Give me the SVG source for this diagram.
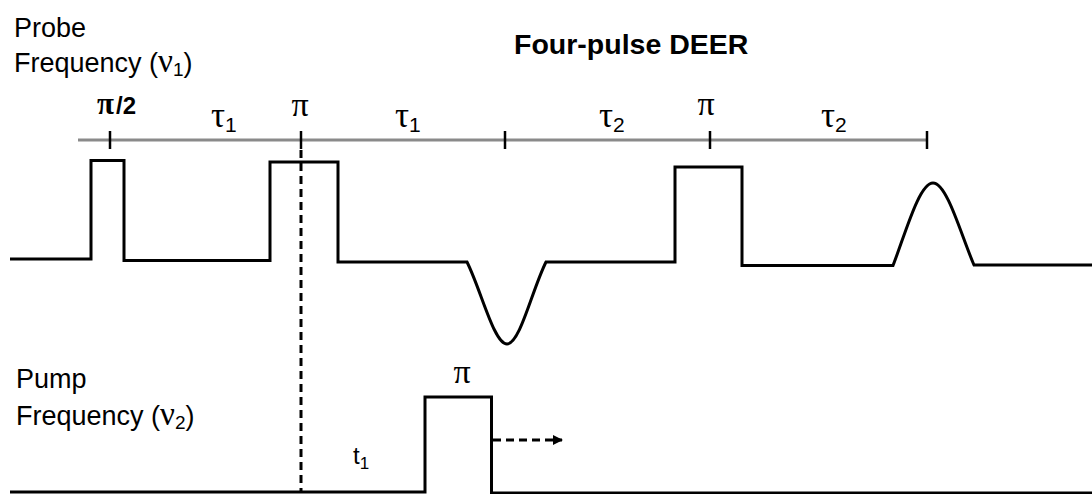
<svg xmlns="http://www.w3.org/2000/svg" width="1092" height="494" viewBox="0 0 1092 494">
<style>
.sans{font-family:"Liberation Sans",Arial,sans-serif;fill:#000}
.greek{font-family:"Liberation Serif","Times New Roman",serif;fill:#000}
.wave{fill:none;stroke:#000;stroke-width:3;stroke-linejoin:miter}
.tick{stroke:#000;stroke-width:2.5}
.axis{stroke:#8a8a8a;stroke-width:3}
.dash{fill:none;stroke:#000;stroke-width:3;stroke-dasharray:8 5}
</style>
<defs>
<marker id="arrow" viewBox="0 0 10 10" refX="9" refY="5" markerWidth="10" markerHeight="10" markerUnits="userSpaceOnUse" orient="auto">
<path d="M0,0 L10,5 L0,10 Z" fill="#000"/>
</marker>
</defs>
<rect width="1092" height="494" fill="#fff"/>

<g id="title">
<text class="sans" x="514" y="54" font-size="28.5" font-weight="bold">Four-pulse DEER</text>
</g>

<g id="probe-label">
<text class="sans" x="14" y="37" font-size="27">Probe</text>
<text class="sans" x="14" y="72" font-size="27">Frequency (<tspan class="greek" font-size="33">ν</tspan><tspan font-size="19" dy="4">1</tspan><tspan dy="-4">)</tspan></text>
</g>

<g id="pump-label">
<text class="sans" x="16" y="388" font-size="27">Pump</text>
<text class="sans" x="16" y="425" font-size="27">Frequency (<tspan class="greek" font-size="33">ν</tspan><tspan font-size="19" dy="4">2</tspan><tspan dy="-4">)</tspan></text>
</g>

<g id="timeline">
<line class="axis" x1="78" y1="140" x2="928" y2="140"/>
<line class="tick" x1="110" y1="131" x2="110" y2="149"/>
<line class="tick" x1="301" y1="131" x2="301" y2="149"/>
<line class="tick" x1="505" y1="131" x2="505" y2="149"/>
<line class="tick" x1="710" y1="131" x2="710" y2="149"/>
<line class="tick" x1="927" y1="131" x2="927" y2="149"/>
</g>

<g id="timeline-labels">
<text x="97" y="114" font-weight="bold"><tspan class="greek" font-size="31" font-weight="bold">π</tspan><tspan class="sans" font-size="24" dx="2">/2</tspan></text>
<text x="211" y="127"><tspan class="greek" font-size="35">τ</tspan><tspan class="sans" font-size="21" dy="5">1</tspan></text>
<text class="greek" x="300" y="116" font-size="34" text-anchor="middle">π</text>
<text x="395" y="127"><tspan class="greek" font-size="35">τ</tspan><tspan class="sans" font-size="21" dy="5">1</tspan></text>
<text x="599" y="127"><tspan class="greek" font-size="35">τ</tspan><tspan class="sans" font-size="21" dy="5">2</tspan></text>
<text class="greek" x="706" y="115" font-size="34" text-anchor="middle">π</text>
<text x="821" y="127"><tspan class="greek" font-size="35">τ</tspan><tspan class="sans" font-size="21" dy="5">2</tspan></text>
</g>

<g id="probe-waveform">
<path class="wave" d="M10,259 H91 V160.5 H124 V260.5 H270 V162 H338 V262 H467 C481,290 494,344 507,344 C520,344 532,290 546,262 H675 V167 H742 V265.5 H893 C905,235 919,183 933,183 C947,183 961,235 974,265 H1092"/>
</g>

<g id="pump-waveform">
<path class="wave" d="M10,492 H425 V397 H491.5 V493 H1092"/>
<text class="greek" x="462" y="383" font-size="34" text-anchor="middle">π</text>
<text x="353" y="464"><tspan class="sans" font-size="24">t</tspan><tspan class="sans" font-size="17" dy="5">1</tspan></text>
</g>

<g id="connectors">
<line class="dash" x1="301" y1="150" x2="301" y2="491"/>
<line class="dash" x1="493" y1="440" x2="562" y2="440" marker-end="url(#arrow)"/>
</g>
</svg>
